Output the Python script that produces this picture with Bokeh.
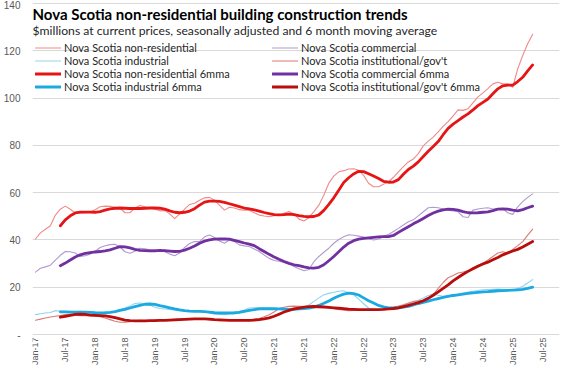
from bokeh.plotting import figure
from bokeh.models import Legend, LegendItem, FixedTicker, Label, Range1d
from bokeh.embed import file_html
from bokeh.resources import INLINE

# ---------------- data (monthly, Jan-17 = month 0 .. May-25 = month 100) -------------
TITLE = "Nova Scotia non-residential  building construction trends"
SUBTITLE = "$millions at current prices, seasonally adjusted and 6 month moving average"

TICK_LABELS = ["Jan-17", "Jul-17", "Jan-18", "Jul-18", "Jan-19", "Jul-19", "Jan-20",
               "Jul-20", "Jan-21", "Jul-21", "Jan-22", "Jul-22", "Jan-23", "Jul-23",
               "Jan-24", "Jul-24", "Jan-25", "Jul-25"]
Y_TICKS = [0, 20, 40, 60, 80, 100, 120, 140]

NONRES = [40.4, 43, 44.5, 46, 50.5, 53, 54.3, 53, 51.4, 51.4,
          51.5, 51.8, 52.8, 54, 54.3, 54.2, 53.8, 53.5, 51.5, 51.5,
          53.5, 54.6, 54, 53.5, 53, 52.3, 52.5, 51, 49, 51,
          53, 55, 55.5, 56.8, 57.8, 58, 56.8, 54.7, 52.6, 53.8,
          53.5, 52.8, 52.6, 52.6, 51.5, 50.5, 50.1, 49.8, 50.2, 50.5,
          51.3, 52, 51, 48.8, 48, 49.5, 52, 54.7, 59, 64,
          67, 68.8, 69.3, 70, 70.1, 69.5, 67.3, 64, 62.5, 62.5,
          63.5, 64.6, 66.5, 68.8, 71, 73, 74.2, 76.5, 79.8, 81.8,
          83.5, 85.7, 88, 90, 92.5, 95, 94.8, 95.5, 98, 100.5,
          102.2, 104, 106, 106.7, 106, 106, 104.6, 112.4, 118, 123,
          127]

COMMERCIAL = [26.4, 28, 28.6, 29.3, 31.5, 33.5, 35.1, 35, 34.5, 33,
              33.3, 34, 35.1, 36.8, 37.5, 38, 38.2, 37, 35, 34.4,
              35.2, 36.5, 36.2, 35.8, 35.8, 35.5, 35, 34, 33.3, 34.5,
              36.8, 38.5, 39.3, 39.3, 41.3, 42.1, 41, 39.5, 38.6, 40,
              39.3, 37.9, 37.5, 37.2, 36.2, 35.1, 33.6, 32.2, 31.3, 31,
              30.5, 29.8, 28.8, 27.8, 27, 27.5, 30.8, 33, 34.8, 36.5,
              38.6, 40.2, 41.3, 42.2, 42, 41.6, 41.2, 40.5, 40, 40.4,
              41.5, 42.3, 43.6, 44.9, 46.3, 47.7, 48.5, 50.2, 51.9, 53.6,
              53.8, 53.6, 53.1, 52.6, 52.3, 51.9, 49.8, 49.5, 52.6, 53.1,
              53.4, 53.6, 53.1, 53.1, 53.3, 51.5, 50.8, 54, 56.2, 58,
              59.5]

INDUSTRIAL = [8.4, 8.8, 9.1, 9.3, 10.1, 9.8, 9.8, 9.8, 9.6, 9.8,
              9.6, 9.3, 9.1, 9.1, 9.1, 9.3, 9.8, 10.5, 11.2, 12,
              13.1, 13.3, 13, 12.5, 11.5, 11, 10.8, 10.6, 10.3, 10.1,
              10, 9.9, 10.1, 10.1, 9.5, 9.1, 8.7, 8.6, 8.4, 8.8,
              9.5, 9.8, 10.4, 11.2, 11.3, 11.4, 11.2, 11.1, 10.9, 10.6,
              10.5, 10.7, 11.2, 11.3, 11.5, 12.5, 14, 15.5, 16.8, 17.4,
              17.9, 18.3, 18.5, 17.5, 16.8, 15, 13, 11.2, 10.5, 10.5,
              10.8, 11, 11.2, 11.5, 12.2, 13, 13.6, 14.5, 15.4, 16.5,
              17.1, 16.6, 16.2, 16.5, 16.8, 17, 17.5, 18, 18.3, 18.6,
              18.9, 19, 19.1, 19.2, 19.1, 19, 18.9, 19.5, 20.4, 21.8,
              23.2]

INSTITUTIONAL = [6, 6.5, 7, 7.4, 7.7, 8, 8.4, 8.5, 8.2, 8,
                 8, 8, 7.8, 7.5, 7, 6.3, 5.6, 5.2, 5.2, 5.4,
                 5.8, 6, 5.9, 5.8, 6, 6.2, 6.3, 6.3, 6.4, 6.5,
                 6.6, 6.6, 6.5, 6.4, 6.6, 6.2, 6, 5.8, 5.9, 6,
                 6, 6.2, 6.1, 6.2, 6.5, 6.8, 7.5, 8.4, 9.5, 11,
                 11.5, 11.9, 12, 11.9, 11.8, 11.6, 11.3, 11.2, 11.3, 11.2,
                 11, 10.6, 10.3, 10.1, 10.2, 10.3, 10.5, 10.5, 10.6, 10.5,
                 10.8, 11.2, 11.5, 12, 12.6, 13.3, 14, 14.2, 14.3, 15,
                 16.8, 19.5, 22, 24, 25, 26, 26.4, 26.9, 28.2, 29.3,
                 30.2, 31.5, 33, 34.5, 35, 34.4, 36, 37.6, 39.3, 42,
                 44.6]

# 6-month moving averages, Jun-17 (month 5) .. May-25 (month 100)
NONRES_6MMA = [46, 48.5, 50.2, 51.4, 51.8,
               51.8, 51.8, 51.7, 52, 52.6, 53.1, 53.4, 53.5, 53.4, 53.3,
               53.3, 53.3, 53.4, 53.5, 53.5, 53.4, 53, 52.3, 51.7, 51.5,
               51.7, 52.2, 53.2, 54.7, 56, 56.4, 56.4, 56.3, 55.9, 55.3,
               54.7, 54.1, 53.5, 53.1, 52.7, 52.2, 51.6, 51.1, 50.7, 50.6,
               50.7, 50.9, 50.7, 50.3, 50, 49.8, 49.9, 50.6, 52.5, 55,
               57.8, 61, 64.3, 66.3, 67.9, 69, 68.9, 68, 67, 66,
               64.8, 64.4, 64.5, 65.5, 67.8, 69.8, 71.2, 73, 75.3, 77.5,
               79.5, 81.6, 84.5, 87.2, 89, 90.5, 92, 93.3, 95, 96.8,
               98.2, 99.6, 101.8, 103.9, 105.2, 105.5, 105.5, 107, 108.8, 111.5,
               114]

COMMERCIAL_6MMA = [29.1, 30.2, 31.5, 32.8, 33.7,
                   34.3, 34.6, 34.9, 35.1, 35.4, 35.8, 36.5, 37.2, 37.1, 36.6,
                   36, 35.6, 35.5, 35.4, 35.4, 35.6, 35.5, 35.3, 35.1, 35.2,
                   35.7, 36.5, 37.4, 38.6, 39.5, 40, 40.3, 40.4, 40.4, 40.3,
                   39.8, 39.3, 38.7, 38.2, 37.6, 36.3, 35.1, 33.9, 32.8, 31.8,
                   30.9, 30.1, 29.5, 29.1, 28.6, 28.2, 28.1, 28.4, 29.5, 31.2,
                   33, 35, 37, 38.6, 39.7, 40.3, 40.7, 40.9, 41.1, 41.3,
                   41.4, 41.4, 41.9, 43.2, 44.4, 45.6, 46.8, 47.9, 49.1, 50.3,
                   51.4, 52.2, 52.7, 53, 52.9, 52.6, 52, 51.5, 51.4, 51.5,
                   51.7, 51.9, 52.4, 53, 53.1, 53, 52.6, 52.3, 52.8, 53.6,
                   54.3]

INDUSTRIAL_6MMA = [9.6, 9.6, 9.5, 9.5, 9.5,
                   9.5, 9.4, 9.2, 9.1, 9.2, 9.4, 9.7, 10.2, 10.6, 11.2,
                   11.8, 12.3, 12.8, 12.9, 12.7, 12.2, 11.8, 11.3, 10.8, 10.4,
                   10.1, 9.9, 9.8, 9.8, 9.7, 9.5, 9.2, 9.1, 9.1, 9.1,
                   9.1, 9.4, 9.8, 10.2, 10.5, 10.8, 10.9, 10.9, 10.9, 10.8,
                   10.7, 10.6, 10.6, 10.8, 11, 11.2, 11.6, 12.3, 13.2, 14.2,
                   15.3, 16.3, 17.1, 17.5, 17.3, 16.7, 15.5, 14.3, 13.3, 12.3,
                   11.7, 11.3, 11.2, 11.3, 11.6, 11.9, 12.5, 13.1, 13.6, 14.1,
                   14.7, 15.2, 15.7, 16.1, 16.5, 16.8, 17.1, 17.4, 17.6, 17.8,
                   18, 18.1, 18.3, 18.5, 18.6, 18.7, 18.8, 18.9, 19.1, 19.5,
                   20]

INSTITUTIONAL_6MMA = [7.3, 7.7, 8.1, 8.5, 8.6,
                      8.5, 8.2, 8.1, 8, 7.9, 7.6, 7.1, 6.6, 6.1, 5.9,
                      5.8, 5.8, 5.8, 5.9, 5.9, 6, 6, 6.1, 6.2, 6.3,
                      6.4, 6.5, 6.6, 6.6, 6.6, 6.5, 6.3, 6.2, 6.1, 6,
                      6, 6, 6, 6, 6.1, 6.3, 6.6, 7, 7.7, 8.6,
                      9.5, 10.2, 10.8, 11.2, 11.6, 11.8, 11.9, 11.8, 11.7, 11.5,
                      11.3, 11.1, 10.9, 10.7, 10.6, 10.5, 10.5, 10.5, 10.5, 10.5,
                      10.6, 10.8, 11, 11.3, 11.8, 12.3, 12.9, 13.5, 14.3, 15.3,
                      16.6, 18, 19.5, 21, 22.7, 24.1, 25.5, 26.7, 27.8, 28.9,
                      29.8, 30.6, 31.6, 32.6, 33.7, 34.5, 35.3, 36, 37, 38.2,
                      39.3]

MONTHS = list(range(len(NONRES)))
MONTHS_MA = MONTHS[5:]
for s in (NONRES, COMMERCIAL, INDUSTRIAL, INSTITUTIONAL):
    assert len(s) == len(MONTHS)
for s in (NONRES_6MMA, COMMERCIAL_6MMA, INDUSTRIAL_6MMA, INSTITUTIONAL_6MMA):
    assert len(s) == len(MONTHS_MA)

# ---------------- layout constants (pixels) -------------------------------------------
FIG_W, FIG_H = 561, 365
FRAME_H = FIG_H                # plot area spans the full height; month labels sit inside it
ZERO_PX = 334                  # distance of the zero line from the top
TOP_PX = 3                     # distance of the 140 grid line from the top
PX_PER_UNIT = (ZERO_PX - TOP_PX) / 140
Y_MAX = ZERO_PX / PX_PER_UNIT
Y_MIN = -(FRAME_H - ZERO_PX) / PX_PER_UNIT


def y_at(px_from_top):
    return Y_MAX - px_from_top / PX_PER_UNIT


p = figure(width=FIG_W, height=FIG_H, output_backend="svg", toolbar_location=None,
           title=None, x_range=Range1d(-0.6, 105.4), y_range=Range1d(Y_MIN, Y_MAX),
           min_border_left=29, min_border_right=2, min_border_top=0, min_border_bottom=0)
p.background_fill_color = "white"
p.border_fill_color = "white"
p.outline_line_color = None

GRID = "#d9d9d9"
TICK_COLOR = "#595959"

p.xgrid.grid_line_color = None
p.ygrid.grid_line_color = GRID
p.ygrid.ticker = FixedTicker(ticks=Y_TICKS)

p.yaxis.ticker = FixedTicker(ticks=Y_TICKS)
p.yaxis.major_label_overrides = {0: "-"}
p.yaxis.axis_line_color = None
p.yaxis.major_tick_line_color = None
p.yaxis.minor_tick_line_color = None
p.yaxis.major_tick_out = 0
p.yaxis.major_tick_in = 0
p.yaxis.minor_tick_out = 0
p.yaxis.axis_label_standoff = 0
p.yaxis.major_label_standoff = 12
p.yaxis.major_label_text_font = "Liberation Sans"
p.yaxis.major_label_text_font_size = "10px"
p.yaxis.major_label_text_color = TICK_COLOR

# month axis: the zero grid line is the axis line; labels are rotated texts below it
p.xaxis.visible = False
x_ticks = [6 * i for i in range(len(TICK_LABELS))]
for t, lab in zip(x_ticks, TICK_LABELS):
    p.add_layout(Label(x=t, y=y_at(ZERO_PX + 3), text=lab, angle=3.14159265 / 2,
                       text_align="right", text_baseline="middle",
                       text_font="Liberation Sans", text_font_size="9px",
                       text_color=TICK_COLOR))

series = [
    ("Nova Scotia non-residential", MONTHS, NONRES, "#f08a8a", 1.1),
    ("Nova Scotia commercial", MONTHS, COMMERCIAL, "#b09ad0", 1.1),
    ("Nova Scotia industrial", MONTHS, INDUSTRIAL, "#8fd4f2", 1.1),
    ("Nova Scotia institutional/gov't", MONTHS, INSTITUTIONAL, "#dc7b74", 1.1),
    ("Nova Scotia non-residential 6mma", MONTHS_MA, NONRES_6MMA, "#e51515", 2.8),
    ("Nova Scotia commercial 6mma", MONTHS_MA, COMMERCIAL_6MMA, "#7030a0", 2.8),
    ("Nova Scotia industrial 6mma", MONTHS_MA, INDUSTRIAL_6MMA, "#1ba9e1", 2.8),
    ("Nova Scotia institutional/gov't 6mma", MONTHS_MA, INSTITUTIONAL_6MMA, "#b80d0d", 2.8),
]

items = []
for name, xs, ys, color, w in series:
    r = p.line(xs, ys, line_color=color, line_width=w, line_join="round", line_cap="round")
    items.append(LegendItem(label=name, renderers=[r]))


def make_legend(its, x, y):
    lg = Legend(items=its, location=(x, y), orientation="vertical",
                label_text_font="Lato", label_text_font_size="11px",
                label_text_color="#262626", label_standoff=3,
                glyph_width=26, glyph_height=13, label_height=13,
                spacing=0, padding=0, margin=0,
                background_fill_alpha=0, border_line_color=None)
    p.add_layout(lg, "center")


LEG_TOP = 41  # px below top of plot area
make_legend([items[0], items[2], items[4], items[6]], 3, FRAME_H - LEG_TOP - 52)
make_legend([items[1], items[3], items[5], items[7]], 240, FRAME_H - LEG_TOP - 52)

p.add_layout(Label(x=-0.6, y=y_at(13.5), text=TITLE, text_font="Lato",
                   text_font_style="bold", text_font_size="15px",
                   text_color="#000000", text_baseline="alphabetic"))
p.add_layout(Label(x=-0.6, y=y_at(29.5), text=SUBTITLE, text_font="Lato",
                   text_font_size="12.2px", text_color="#262626",
                   text_baseline="alphabetic"))

open("out.html", "w").write(file_html(p, INLINE))
